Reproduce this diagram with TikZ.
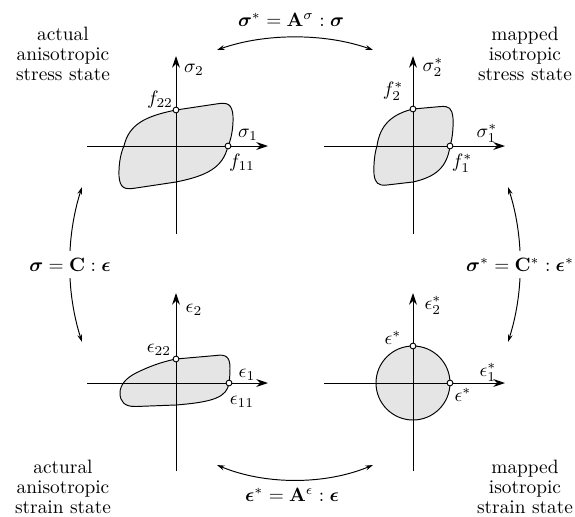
\documentclass[tikz,border=0pt]{standalone}
\usepackage{amsmath}
\usepackage{bm}
\usetikzlibrary{arrows.meta}
\begin{document}
\begin{tikzpicture}[x=0.01817cm,y=-0.01817cm,line width=0.5pt,
  axis/.style={-{Stealth[length=6pt,width=4pt]}},
  surf/.style={draw,fill=gray!20},
  pt/.style={circle,draw,fill=white,inner sep=0pt,minimum size=3pt},
  txt/.style={align=center,font=\fontsize{10}{10.3}\selectfont},
  map/.style={{Stealth[length=4pt,width=2.5pt]}-{Stealth[length=4pt,width=2.5pt]}}]
\useasboundingbox (0,0) rectangle (575,517);

% actual stress
\begin{scope}[shift={(176,146)}]
\filldraw[surf] (52,0) .. controls (47,22) and (30,30) .. (0,36) -- (-40,42)
  .. controls (-52,44) and (-56,42) .. (-57,30) .. controls (-57.5,18) and (-55,6) .. (-52,0)
  .. controls (-47,-22) and (-30,-30) .. (0,-36) -- (40,-42)
  .. controls (52,-44) and (56,-42) .. (57,-30) .. controls (57.5,-18) and (55,-6) .. (52,0) -- cycle;
\coordinate (aw) at (-89,0); \coordinate (ae) at (92,0);
\coordinate (as) at (0,88); \coordinate (an) at (0,-90);
\draw[axis] (aw) -- (ae);
\draw[axis] (as) -- (an);
\node[pt] (f22) at (0,-36) {};
\node[pt] (f11) at (52,0) {};
\node (asig2) at (18,-76) {$\sigma_2$};
\node (asig1) at (72,-11) {$\sigma_1$};
\node (af22) at (-16,-46) {$f_{22}$};
\node (af11) at (66,17) {$f_{11}$};
\end{scope}

% mapped stress
\begin{scope}[shift={(413,146)}]
\filldraw[surf] (37,0) .. controls (34,22) and (22,31) .. (0,36) -- (-26,39)
  .. controls (-35,40) and (-38,37) .. (-39,28) .. controls (-39.5,16) and (-38,6) .. (-36,0)
  .. controls (-33,-22) and (-20,-32) .. (0,-37) -- (28,-39.5)
  .. controls (36,-40) and (39,-38) .. (40,-28) .. controls (40.5,-16) and (39,-6) .. (37,0) -- cycle;
\coordinate (mw) at (-89,0); \coordinate (me) at (92,0);
\coordinate (ms) at (0,88); \coordinate (mn) at (0,-90);
\draw[axis] (mw) -- (me);
\draw[axis] (ms) -- (mn);
\node[pt] (f2) at (0,-37) {};
\node[pt] (f1) at (37,0) {};
\node (msig2) at (20,-79) {$\sigma_2^*$};
\node (msig1) at (74,-13) {$\sigma_1^*$};
\node (mf2) at (-20,-55) {$f_2^*$};
\node (mf1) at (49,17) {$f_1^*$};
\end{scope}

% actual strain
\begin{scope}[shift={(176,383)}]
\filldraw[surf] (53,0) .. controls (51,14) and (38,19) .. (0,22) -- (-40,23.5)
  .. controls (-52,24) and (-56,18) .. (-56,10) .. controls (-56,2) and (-50,-5) .. (-40,-10)
  .. controls (-28,-16) and (-15,-21) .. (0,-24) -- (40,-27.5)
  .. controls (50,-29) and (54,-26) .. (54,-15) .. controls (54,-8) and (53.5,-3) .. (53,0) -- cycle;
\coordinate (ew) at (-89,0); \coordinate (ee) at (92,0);
\coordinate (es) at (0,88); \coordinate (en) at (0,-90);
\draw[axis] (ew) -- (ee);
\draw[axis] (es) -- (en);
\node[pt] (e22) at (0,-24) {};
\node[pt] (e11) at (53,0) {};
\node (eeps2) at (18,-73) {$\epsilon_2$};
\node (eeps1) at (71,-8) {$\epsilon_1$};
\node (ee22) at (-17,-33) {$\epsilon_{22}$};
\node (ee11) at (66,19) {$\epsilon_{11}$};
\end{scope}

% mapped strain
\begin{scope}[shift={(413,383)}]
\filldraw[surf] (0,0) circle[radius=37];
\coordinate (iw) at (-89,0); \coordinate (ie) at (92,0);
\coordinate (is) at (0,88); \coordinate (in) at (0,-90);
\draw[axis] (iw) -- (ie);
\draw[axis] (is) -- (in);
\node[pt] (et) at (0,-37) {};
\node[pt] (er) at (37,0) {};
\node (ieps2) at (20,-78) {$\epsilon_2^*$};
\node (ieps1) at (75,-11) {$\epsilon_1^*$};
\node (iet) at (-20,-45) {$\epsilon^*$};
\node (ier) at (50,12) {$\epsilon^*$};
\end{scope}

% state texts
\node[txt] (t1) at (63,54) {actual\\anisotropic\\stress state};
\node[txt] (t2) at (525,54) {mapped\\isotropic\\stress state};
\node[txt] (t3) at (63,487) {actural\\anisotropic\\strain state};
\node[txt] (t4) at (525,487) {mapped\\isotropic\\strain state};

% mappings
\coordinate (tl) at (217,50); \coordinate (tr) at (373,50);
\coordinate (bl) at (217,465); \coordinate (br) at (373,465);
\coordinate (lt) at (82,187); \coordinate (lb) at (82,342);
\coordinate (rt) at (508,187); \coordinate (rb) at (508,342);
\draw[map] (tl) .. controls (265,33) and (325,33) .. (tr);
\node (mapsig) at (291,20) {$\bm{\sigma}^* = \mathbf{A}^\sigma : \bm{\sigma}$};
\draw[map] (bl) .. controls (265,485) and (325,485) .. (br);
\node (mapeps) at (292,495) {$\bm{\epsilon}^* = \mathbf{A}^\epsilon : \bm{\epsilon}$};
\draw[map] (lt) .. controls (66,237) and (66,292) .. node[fill=white] (lawa) {$\bm{\sigma} = \mathbf{C} : \bm{\epsilon}$} (lb);
\draw[map] (rt) .. controls (524,237) and (524,292) .. node[fill=white] (lawm) {$\bm{\sigma}^* = \mathbf{C}^* : \bm{\epsilon}^*$} (rb);
\end{tikzpicture}
\end{document}
